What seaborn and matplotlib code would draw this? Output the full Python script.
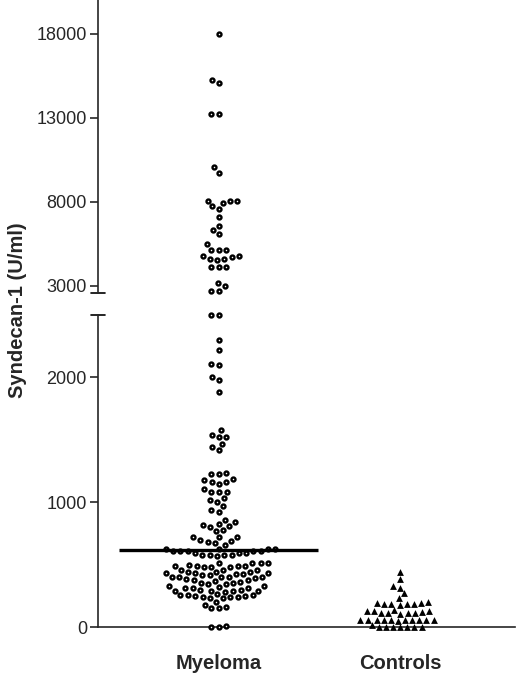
import numpy as np
import pandas as pd
import seaborn as sns
import matplotlib
matplotlib.use("Agg")
from matplotlib import pyplot as plt
from matplotlib.path import Path

groups = ["Myeloma", "Controls"]

# syndecan-1 values (U/ml)
myeloma_high = [18000, 15240, 15060, 13260, 13260, 10060, 9730,
                8080, 8080, 8080, 7920, 7740, 7560, 7130, 6590, 6350, 6100,
                5480, 5140, 5140, 5140, 4800, 4760, 4700, 4625, 4625, 4520,
                4110, 4110, 4110, 3155, 2976, 2720, 2720]
myeloma_low = [2500, 2500, 2300, 2220, 2100, 2105, 2000, 1980, 1880,
               1575, 1520, 1520, 1540, 1470, 1420, 1445,
               1225, 1225, 1235, 1185, 1165, 1145, 1165, 1175,
               1105, 1085, 1085, 1085, 1035, 1005, 1015, 970, 935, 925,
               825, 805, 780, 770, 845, 855, 810, 815,
               718, 696, 683, 656, 670, 690, 718, 718,
               622, 622, 605, 605, 605, 590, 590, 605, 605, 590, 622, 622,
               575, 575, 575, 575, 565,
               490, 490, 480, 480, 510, 510, 510, 515, 480, 490, 490, 500,
               438, 460, 425, 443, 432, 432, 425, 460, 438, 460, 432,
               413, 397, 397, 397, 381, 376, 363, 371, 376, 389, 397, 403, 413,
               344, 296, 328, 309, 309, 296, 291, 291, 291, 291, 309, 323, 328,
               344, 355, 355,
               256, 256, 248, 237, 243, 229, 243, 229, 203, 248, 256, 264, 283,
               176, 149, 149, 157, 8, 0, 0]
controls = [443, 384, 315, 328, 269, 230, 202,
            195, 195, 184, 184, 176, 184, 184,
            123, 110, 110, 136, 131, 131, 131, 109, 104, 115,
            60, 60, 60, 60, 60, 60, 60, 60, 60, 60, 52,
            16, 0, 0, 0, 0, 0, 0, 0]
myeloma_median = 620

lower_ticks = [0, 1000, 2000]
upper_ticks = [3000, 8000, 13000, 18000]
lower_lim = (0, 2500)
upper_lim = (2583, 20024)
break_at = 2550

values = myeloma_high + myeloma_low + controls
labels = ["Myeloma"] * (len(myeloma_high) + len(myeloma_low)) + ["Controls"] * len(controls)
df = pd.DataFrame({"group": labels, "value": values})


def padded(path, k):
    # shape drawn smaller than its marker box, so the swarm leaves gaps
    verts = np.concatenate([[[1, 1], [-1, -1]], path.vertices * k])
    codes = np.concatenate([[Path.MOVETO, Path.MOVETO], path.codes])
    return Path(verts, codes)


ring = padded(Path.unit_circle(), 0.84)

sns.set_style("white")
plt.rcParams["font.family"] = ["Liberation Sans", "DejaVu Sans"]

fig = plt.figure(figsize=(5.2, 6.9), dpi=100)
ax_up = fig.add_axes([0.1885, 0.5754, 0.8019, 0.4246])
ax_lo = fig.add_axes([0.1885, 0.0913, 0.8019, 0.4522])

mye = df[df.group == "Myeloma"]
ctl = df[df.group == "Controls"]

circle_kw = dict(marker=ring, size=3.4, color="white", edgecolor="black",
                 linewidth=1.7, clip_on=False, zorder=3)

sns.swarmplot(data=mye[mye.value > break_at], x="group", y="value",
              order=groups, ax=ax_up, **circle_kw)
sns.swarmplot(data=mye[mye.value <= break_at], x="group", y="value",
              order=groups, ax=ax_lo, **circle_kw)
sns.swarmplot(data=ctl, x="group", y="value", order=groups, ax=ax_lo,
              marker="^", size=4.9, color="black", linewidth=0,
              clip_on=False, zorder=3)

ax_lo.hlines(myeloma_median, -0.55, 0.55, color="black", lw=2.4, zorder=4)

for ax in (ax_up, ax_lo):
    ax.set_xlim(-0.666, 1.634)
    ax.set_xlabel("")
    ax.set_ylabel("")
    ax.spines["top"].set_visible(False)
    ax.spines["right"].set_visible(False)
    ax.spines["left"].set_linewidth(1.2)
    ax.tick_params(axis="y", direction="out", length=6, width=1.2,
                   labelsize=13, pad=2, left=True)
    ax.patch.set_alpha(0)

ax_up.set_ylim(*upper_lim)
ax_up.set_yticks(upper_ticks)
ax_up.spines["bottom"].set_visible(False)
ax_up.tick_params(axis="x", bottom=False, labelbottom=False)

ax_lo.set_ylim(*lower_lim)
ax_lo.set_yticks(lower_ticks)
ax_lo.spines["bottom"].set_linewidth(1.2)
ax_lo.tick_params(axis="x", bottom=False, labelsize=14.5, pad=16)
for t in ax_lo.get_xticklabels():
    t.set_fontweight("bold")

# end caps at the axis break
ax_up.plot([-0.016, 0.016], [0, 0], transform=ax_up.transAxes,
           color="black", lw=1.2, clip_on=False)
ax_lo.plot([-0.016, 0.016], [1, 1], transform=ax_lo.transAxes,
           color="black", lw=1.2, clip_on=False)

fig.text(0.033, 1 - 310 / 690, "Syndecan-1 (U/ml)", rotation=90,
         ha="center", va="center", fontsize=14.5, fontweight="bold")

fig.savefig("out.png", dpi=100)
